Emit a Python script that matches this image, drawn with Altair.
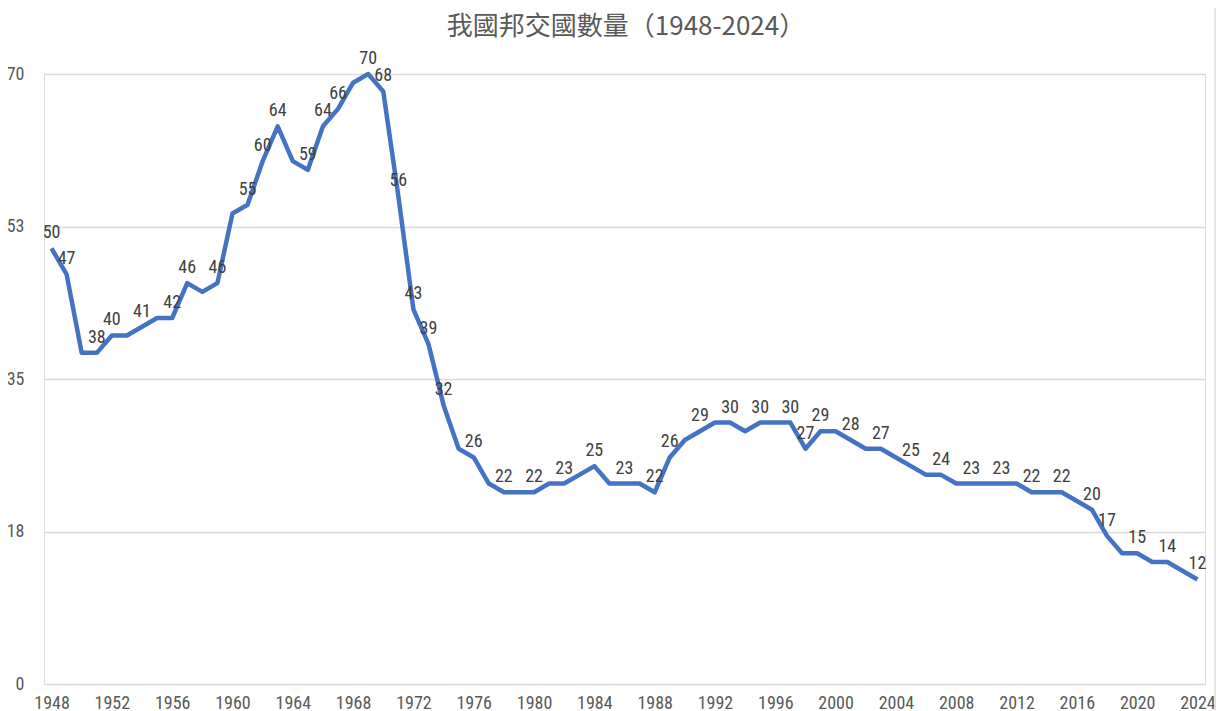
import altair as alt
import pandas as pd

title_text = "我國邦交國數量（1948-2024）"
years = list(range(1948, 2025))
counts = [50, 47, 38, 38, 40, 40, 41, 42, 42, 46,
          45, 46, 54, 55, 60, 64, 60, 59, 64, 66,
          69, 70, 68, 56, 43, 39, 32, 27, 26, 23,
          22, 22, 22, 23, 23, 24, 25, 23, 23, 23,
          22, 26, 28, 29, 30, 30, 29, 30, 30, 30,
          27, 29, 29, 28, 27, 27, 26, 25, 24, 24,
          23, 23, 23, 23, 23, 22, 22, 22, 21, 20,
          17, 15, 15, 14, 14, 13, 12]
label_years = [1948, 1949, 1951, 1952, 1954, 1956, 1957, 1959, 1961, 1962,
               1963, 1965, 1966, 1967, 1969, 1970, 1971, 1972, 1973, 1974,
               1976, 1978, 1980, 1982, 1984, 1986, 1988, 1989, 1991, 1993,
               1995, 1997, 1998, 1999, 2001, 2003, 2005, 2007, 2009, 2011,
               2013, 2015, 2017, 2018, 2020, 2022, 2024]
x_ticks = list(range(1948, 2025, 4))
y_ticks = [0, 17.5, 35, 52.5, 70]

df = pd.DataFrame({"year": years, "count": counts})
df["show"] = df["year"].isin(label_years)

FONT = "Liberation Sans Narrow, Roboto Condensed, Roboto, sans-serif"

x_enc = alt.X("year:Q",
              scale=alt.Scale(domain=[1947.5, 2024.5], nice=False, zero=False),
              axis=alt.Axis(values=x_ticks, format="d", grid=False, ticks=False,
                            domain=False, labelFontSize=18, labelColor="#595959",
                            labelFont=FONT, labelPadding=10, title=None,
                            labelOverlap=False, labelFlush=False))
y_enc = alt.Y("count:Q",
              scale=alt.Scale(domain=[0, 70], nice=False),
              axis=alt.Axis(values=y_ticks, format=".0f", grid=True,
                            gridColor="#d9d9d9", gridWidth=1.5, ticks=False,
                            domain=False, labelFontSize=18, labelColor="#595959",
                            labelFont=FONT, labelPadding=20, title=None))

base = alt.Chart(df)

line = base.mark_line(color="#4472C4", strokeWidth=4.5, strokeJoin="round").encode(
    x=x_enc, y=y_enc)

labels = base.transform_filter(alt.datum.show).mark_text(
    font=FONT, fontSize=18, color="#404040", dy=-15, baseline="middle"
).encode(x="year:Q", y="count:Q", text="count:Q")

border = alt.Chart(pd.DataFrame({"a": [0]})).mark_rule(
    color="#d9d9d9", strokeWidth=1.5
).encode(x=alt.value(1171), y=alt.value(-66), y2=alt.value(640))

title = alt.Chart(pd.DataFrame({"t": [title_text]})).mark_text(
    font="Noto Sans CJK TC", fontSize=26, color="#595959",
    align="center", baseline="middle"
).encode(x=alt.value(582), y=alt.value(-47), text="t:N")

chart = alt.layer(line, labels, border, title).properties(
    width=1161, height=610,
    autosize=alt.AutoSizeParams(type="none"),
    padding={"left": 36, "top": 66, "right": 13, "bottom": 27},
).configure_view(stroke="#d9d9d9", strokeWidth=1.5).configure(background="white")

chart.save("out.html", embed_options={"renderer": "svg", "actions": False})
